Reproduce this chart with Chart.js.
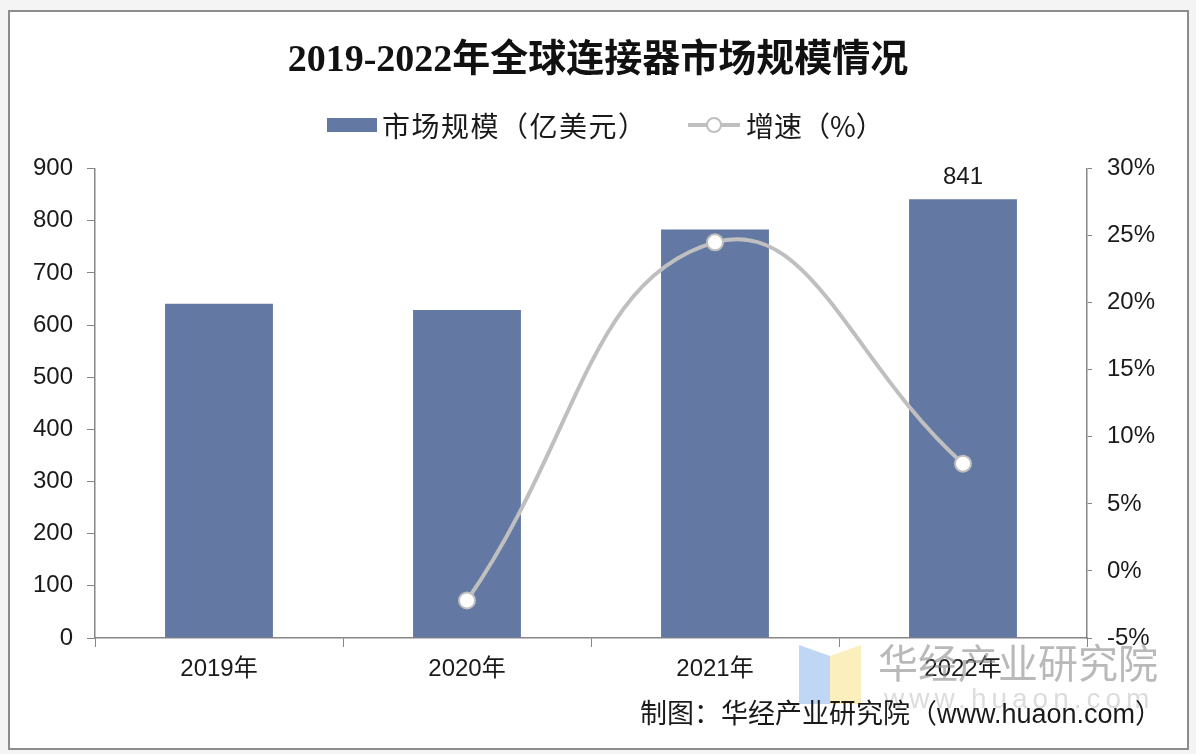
<!DOCTYPE html>
<html>
<head>
<meta charset="utf-8">
<script src="https://cdn.jsdelivr.net/npm/chart.js@4.4.1/dist/chart.umd.min.js"></script>
<style>
    html, body { margin: 0; padding: 0; background: #f4f4f4; }
    #frame { position: absolute; left: 8px; top: 10px; width: 1177px; height: 736px; border: 2px solid #8c8c8c; background: #fff; }
    #wrap { position: absolute; left: 0; top: 0; width: 1196px; height: 754px; }
</style>
</head>
<body>
<div id="frame"></div>
<div id="wrap"><canvas id="marketChart"></canvas></div>
<script>
// Data
const years = ['2019年', '2020年', '2021年', '2022年'];
const marketSize = [641, 629, 783, 841];          // 亿美元
const growthRate = [null, -2.2, 24.5, 8.0];       // %
const sizeLabelShown = [false, false, false, true];
const leftTicks = [0, 900, 100];                  // min, max, step
const rightTicks = [-5, 30, 5];

const BAR_COLOR = '#6379a3';
const LINE_COLOR = '#bfbfbf';
const AXIS_COLOR = '#868686';
const TEXT_COLOR = '#1a1a1a';
const SANS = "'Liberation Sans', 'Noto Sans CJK SC', sans-serif";

// Custom legend, value label, source note and watermark
const extrasPlugin = {
    id: 'extras',
    afterDatasetsDraw(chart) {
        const ctx = chart.ctx;
        ctx.save();

        // value label over the bar
        const meta = chart.getDatasetMeta(0);
        ctx.font = '24px ' + SANS;
        ctx.fillStyle = TEXT_COLOR;
        ctx.textAlign = 'center';
        ctx.textBaseline = 'bottom';
        meta.data.forEach((bar, i) => {
            if (sizeLabelShown[i]) ctx.fillText(marketSize[i], bar.x, bar.y - 10);
        });

        // legend
        const legendY = 125;
        ctx.font = "28px 'Noto Sans CJK SC', sans-serif";
        ctx.textBaseline = 'middle';
        ctx.textAlign = 'left';
        const t1 = chart.data.datasets[0].label;
        const t2 = chart.data.datasets[1].label;
        let x = 327;
        ctx.fillStyle = BAR_COLOR;
        ctx.fillRect(x, legendY - 7, 50, 14);
        x += 55;
        ctx.fillStyle = TEXT_COLOR;
        ctx.letterSpacing = '1.5px';
        ctx.fillText(t1, x, legendY + 1);
        ctx.letterSpacing = '0px';
        x = 688;
        ctx.strokeStyle = LINE_COLOR;
        ctx.lineWidth = 4;
        ctx.beginPath();
        ctx.moveTo(x, legendY);
        ctx.lineTo(x + 52, legendY);
        ctx.stroke();
        ctx.beginPath();
        ctx.arc(x + 26, legendY, 7, 0, Math.PI * 2);
        ctx.fillStyle = '#fff';
        ctx.fill();
        ctx.lineWidth = 2;
        ctx.stroke();
        x += 58;
        ctx.fillStyle = TEXT_COLOR;
        ctx.fillText(t2, x, legendY + 1);

        // watermark logo + text
        ctx.globalAlpha = 0.75;
        ctx.fillStyle = '#a9c8f0';
        ctx.beginPath();
        ctx.moveTo(799, 645); ctx.lineTo(830, 656); ctx.lineTo(830, 704); ctx.lineTo(799, 704);
        ctx.fill();
        ctx.fillStyle = '#fbeaa8';
        ctx.beginPath();
        ctx.moveTo(830, 656); ctx.lineTo(861, 645); ctx.lineTo(861, 704); ctx.lineTo(830, 704);
        ctx.fill();
        ctx.globalAlpha = 0.6;
        ctx.fillStyle = '#8a8a8a';
        ctx.font = "40px 'Noto Sans CJK SC', sans-serif";
        ctx.textAlign = 'left';
        ctx.fillText('华经产业研究院', 878, 663);
        ctx.globalAlpha = 0.3;
        ctx.font = '28px ' + SANS;
        ctx.letterSpacing = '5px';
        ctx.fillText('www.huaon.com', 884, 700);
        ctx.letterSpacing = '0px';
        ctx.globalAlpha = 1;

        // source note
        ctx.font = "27px 'Liberation Sans', 'Noto Sans CJK SC', sans-serif";
        ctx.fillStyle = TEXT_COLOR;
        ctx.textAlign = 'right';
        ctx.fillText('制图：华经产业研究院（www.huaon.com）', 1162, 716);
        ctx.restore();
    }
};

new Chart(document.getElementById('marketChart'), {
    data: {
        labels: years,
        datasets: [
            {
                type: 'bar',
                label: '市场规模（亿美元）',
                data: marketSize,
                backgroundColor: BAR_COLOR,
                yAxisID: 'y',
                categoryPercentage: 1,
                barPercentage: 0.435,
                order: 2
            },
            {
                type: 'line',
                label: '增速（%）',
                data: growthRate,
                borderColor: LINE_COLOR,
                borderWidth: 4,
                tension: 0.45,
                pointRadius: 8,
                pointBackgroundColor: '#fff',
                pointBorderColor: LINE_COLOR,
                pointBorderWidth: 2,
                yAxisID: 'y1',
                order: 1
            }
        ]
    },
    options: {
        responsive: true,
        maintainAspectRatio: false,
        animation: false,
        layout: { padding: 0 },
        plugins: {
            legend: { display: false },
            tooltip: { enabled: false },
            title: {
                display: true,
                text: '2019-2022年全球连接器市场规模情况',
                color: '#111',
                font: { family: "'Liberation Serif', 'Noto Sans CJK SC', serif", size: 38, weight: 'bold' },
                padding: { top: 38, bottom: 85 }
            }
        },
        scales: {
            x: {
                grid: { offset: true, drawOnChartArea: false, tickLength: 9, color: AXIS_COLOR },
                border: { color: AXIS_COLOR, width: 1.5 },
                ticks: { color: TEXT_COLOR, font: { family: SANS, size: 24 }, padding: 8 },
                afterFit(scale) { scale.height = 116; }
            },
            y: {
                position: 'left',
                min: leftTicks[0],
                max: leftTicks[1],
                ticks: { stepSize: leftTicks[2], color: TEXT_COLOR, font: { family: SANS, size: 24 }, padding: 14 },
                grid: { drawOnChartArea: false, tickLength: 8, color: AXIS_COLOR },
                border: { color: AXIS_COLOR, width: 1.5 },
                afterFit(scale) { scale.width = 95; }
            },
            y1: {
                position: 'right',
                min: rightTicks[0],
                max: rightTicks[1],
                ticks: { stepSize: rightTicks[2], color: TEXT_COLOR, font: { family: SANS, size: 24 }, padding: 15, callback: v => v + '%' },
                grid: { drawOnChartArea: false, tickLength: 5, color: AXIS_COLOR },
                border: { color: AXIS_COLOR, width: 1.5 },
                afterFit(scale) { scale.width = 109; }
            }
        }
    },
    plugins: [extrasPlugin]
});
</script>
</body>
</html>
